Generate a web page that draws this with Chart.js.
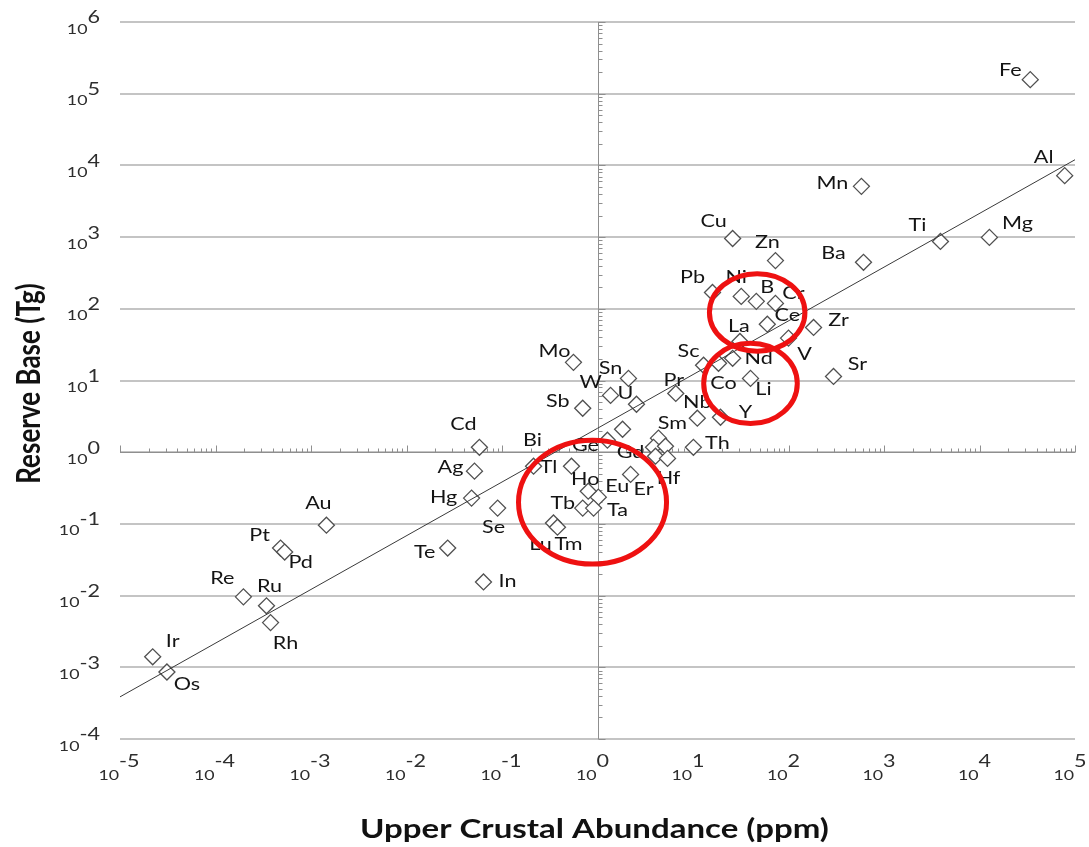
<!DOCTYPE html>
<html>
<head>
<meta charset="utf-8">
<style>
  html, body { margin: 0; padding: 0; background: #fff; }
  canvas { display: block; }
</style>
<script src="https://cdn.jsdelivr.net/npm/chart.js@4.4.1/dist/chart.umd.min.js"></script>
</head>
<body>
<canvas id="crustChart" width="1089" height="847"></canvas>
<script>
// element symbols ('' = unlabelled point)
var elements = ['Fe', 'Al', 'Mn', 'Ti', 'Mg', 'Ba', 'Cu', 'Zn', 'Pb', 'Ni', 'B', 'Cr',
                'Ce', 'La', 'Zr', 'V', 'Nd', 'Sc', 'Co', 'Li', 'Sr', 'Y', 'Nb', 'Pr',
                'Sm', 'Th', 'Gd', '', '', 'Hf', 'Er', 'Eu', 'Ho', 'Tb', 'Ta', 'Lu',
                'Tm', 'Ge', '', 'Tl', 'Bi', 'Mo', 'Sn', 'W', 'U', 'Sb', 'Cd', 'Ag',
                'Hg', 'Se', 'Te', 'In', 'Au', 'Pt', 'Pd', 'Re', 'Ru', 'Rh', 'Ir', 'Os'];

// upper crustal abundance (ppm)
var abundance = [3.4e4, 7.8e4, 580, 3900, 1.27e4, 610, 26, 73, 16, 32, 46, 73,
                 60, 31, 183, 100, 26, 12.9, 18.5, 40, 296, 19.4, 11.1, 6.6,
                 4.35, 10.1, 3.86, 5.15, 4.05, 5.41, 2.22, 1.02, 0.80, 0.70, 0.91, 0.346,
                 0.381, 1.27, 1.83, 0.534, 0.214, 0.56, 2.11, 1.37, 2.56, 0.70, 0.058, 0.0515,
                 0.048, 0.090, 0.027, 0.064, 0.00145, 0.00048, 0.00053, 0.000196, 0.000342, 0.000377, 2.2e-5, 3.1e-5];

// reserve base (Tg)
var reserve = [1.57e5, 7200, 5100, 870, 990, 445, 955, 470, 169, 149, 127, 119,
               61, 35, 55, 39, 20.4, 16.3, 17.4, 10.7, 11.4, 3.07, 2.98, 6.6,
               1.57, 1.17, 1.17, 1.21, 0.88, 0.82, 0.49, 0.236, 0.286, 0.166, 0.166, 0.103,
               0.090, 1.47, 2.09, 0.638, 0.638, 17.9, 10.7, 6.2, 4.66, 4.1, 1.17, 0.544,
               0.229, 0.166, 0.046, 0.0155, 0.096, 0.046, 0.0405, 0.0096, 0.0072, 0.0042, 0.0014, 0.00086];

// power-law trend line end points
var trendX = [1e-5, 1e5];
var trendY = [3.87e-4, 1.2e4];

var xTicks = [1e-5, 1e-4, 1e-3, 1e-2, 1e-1, 1, 1e1, 1e2, 1e3, 1e4, 1e5];
var yTicks = [1e-4, 1e-3, 1e-2, 1e-1, 1, 1e1, 1e2, 1e3, 1e4, 1e5, 1e6];

// red highlight rings: centre (data units), half-widths in decades
var rings = [
  { x: 47, y: 89, rx: 0.50, ry: 0.54 },
  { x: 40, y: 9.1, rx: 0.49, ry: 0.56 },
  { x: 0.887, y: 0.201, rx: 0.775, ry: 0.864 }
];

// label placement relative to the marker (px)
var labelOffset = {
  Fe: [-20, -9], Al: [-21, -18], Mn: [-29, -3], Ti: [-23, -16], Mg: [28, -14], Ba: [-30, -9],
  Cu: [-19, -17], Zn: [-8, -18], Pb: [-20, -15], Ni: [-5, -19], B: [11, -14], Cr: [18, -10],
  Ce: [20, -9], La: [-1, -15], Zr: [25, -7], V: [16, 16], Nd: [26, 0], Sc: [-15, -14],
  Co: [5, 20], Li: [13, 11], Sr: [24, -12], Y: [25, -5], Nb: [0, -16], Pr: [-2, -13],
  Sm: [14, -15], Th: [24, -4], Gd: [-23, 5], Hf: [1, 20], Er: [13, 15], Eu: [19, -11],
  Ho: [-3, -12], Tb: [-20, -5], Ta: [24, 2], Lu: [-13, 22], Tm: [11, 17], Ge: [-22, 5],
  Tl: [-23, 1], Bi: [-1, -26], Mo: [-19, -11], Sn: [-18, -10], W: [-20, -13], U: [-11, -11],
  Sb: [-25, -7], Cd: [-16, -23], Ag: [-24, -4], Hg: [-28, -1], Se: [-4, 19], Te: [-23, 4],
  In: [24, 0], Au: [-8, -22], Pt: [-21, -13], Pd: [16, 10], Re: [-21, -18], Ru: [3, -19],
  Rh: [15, 21], Ir: [20, -15], Os: [20, 13]
};

var STRETCH = 1.27;
var FONT = 'Lato, "Open Sans", sans-serif';

function wideText(ctx, text, x, y, align) {
  ctx.save();
  ctx.translate(x, y);
  ctx.scale(STRETCH, 1);
  ctx.textAlign = align || 'center';
  ctx.fillText(text, 0, 0);
  ctx.restore();
}

var decor = {
  id: 'decor',
  beforeDatasetsDraw: function (chart) {
    var c = chart.ctx, xs = chart.scales.x, ys = chart.scales.y, a = chart.chartArea;
    var x0 = Math.round(xs.getPixelForValue(1)) + 0.5;
    var y0 = Math.round(ys.getPixelForValue(1)) + 0.5;
    c.save();
    c.strokeStyle = '#8f8f8f';
    c.lineWidth = 1;
    c.beginPath();
    c.moveTo(x0, a.top); c.lineTo(x0, a.bottom);
    c.moveTo(a.left, y0); c.lineTo(a.right, y0);
    var d, k, p;
    for (d = -5; d <= 5; d++) {
      for (k = 1; k < 10; k++) {
        if (d === 5 && k > 1) break;
        p = Math.round(xs.getPixelForValue(k * Math.pow(10, d))) + 0.5;
        c.moveTo(p, y0); c.lineTo(p, y0 - (k === 1 ? 7 : 4));
      }
    }
    for (d = -4; d <= 6; d++) {
      for (k = 1; k < 10; k++) {
        if (d === 6 && k > 1) break;
        p = Math.round(ys.getPixelForValue(k * Math.pow(10, d))) + 0.5;
        c.moveTo(x0, p); c.lineTo(x0 + (k === 1 ? 7 : 4), p);
      }
    }
    c.stroke();
    c.restore();
  },
  afterDatasetsDraw: function (chart) {
    var c = chart.ctx, xs = chart.scales.x, ys = chart.scales.y;
    c.save();
    c.fillStyle = '#141414';
    c.font = '17px ' + FONT;
    c.textBaseline = 'middle';
    elements.forEach(function (el, i) {
      if (!el) return;
      var off = labelOffset[el] || [0, -16];
      wideText(c, el, xs.getPixelForValue(abundance[i]) + off[0], ys.getPixelForValue(reserve[i]) + off[1]);
    });
    c.strokeStyle = '#ee1111';
    c.lineWidth = 5;
    rings.forEach(function (r) {
      var cx = xs.getPixelForValue(r.x), cy = ys.getPixelForValue(r.y);
      var w = xs.getPixelForValue(r.x * Math.pow(10, r.rx)) - cx;
      var h = cy - ys.getPixelForValue(r.y * Math.pow(10, r.ry));
      c.beginPath();
      c.ellipse(cx, cy, w, h, 0, 0, Math.PI * 2);
      c.stroke();
    });
    c.restore();
  },
  afterDraw: function (chart) {
    var c = chart.ctx, xs = chart.scales.x, ys = chart.scales.y, a = chart.chartArea;
    c.save();
    c.fillStyle = '#2e2e2e';
    c.textBaseline = 'middle';
    yTicks.forEach(function (v) {
      var py = ys.getPixelForValue(v);
      var exp = String(Math.round(Math.log10(v)));
      c.font = '17px ' + FONT;
      var ew = c.measureText(exp).width * STRETCH;
      wideText(c, exp, a.left - 20, py - 4, 'right');
      c.font = '14px ' + FONT;
      wideText(c, '10', a.left - 20 - ew, py + 7, 'right');
    });
    xTicks.forEach(function (v) {
      var px = xs.getPixelForValue(v);
      var exp = String(Math.round(Math.log10(v)));
      c.font = '17px ' + FONT;
      wideText(c, exp, px - 1, a.bottom + 23, 'left');
      c.font = '14px ' + FONT;
      wideText(c, '10', px - 1, a.bottom + 36, 'right');
    });
    c.fillStyle = '#111';
    c.font = 'bold 26px ' + FONT;
    wideText(c, 'Upper Crustal Abundance (ppm)', (a.left + a.right) / 2 - 3, 830);
    c.save();
    c.translate(29, (a.top + a.bottom) / 2 + 3);
    c.rotate(-Math.PI / 2);
    c.scale(1, STRETCH);
    c.textAlign = 'center';
    c.fillText('Reserve Base (Tg)', 0, 0);
    c.restore();
    c.restore();
  }
};

new Chart(document.getElementById('crustChart'), {
  type: 'scatter',
  data: {
    datasets: [
      {
        type: 'line',
        label: 'Trend',
        data: trendX.map(function (x, i) { return { x: x, y: trendY[i] }; }),
        borderColor: '#3a3a3a',
        borderWidth: 1,
        pointRadius: 0,
        order: 0
      },
      {
        label: 'Elements',
        data: abundance.map(function (x, i) { return { x: x, y: reserve[i] }; }),
        pointStyle: 'rectRot',
        pointRadius: 8,
        borderColor: '#505050',
        borderWidth: 1.3,
        backgroundColor: '#ffffff',
        order: 1
      }
    ]
  },
  options: {
    responsive: false,
    animation: false,
    devicePixelRatio: 1,
    layout: { padding: { top: 22, right: 14, left: 0, bottom: 0 } },
    plugins: { legend: { display: false }, tooltip: { enabled: false } },
    scales: {
      x: {
        type: 'logarithmic', min: 1e-5, max: 1e5,
        grid: { display: false },
        border: { display: false },
        ticks: { display: false },
        afterBuildTicks: function (s) { s.ticks = xTicks.map(function (v) { return { value: v }; }); },
        afterFit: function (s) { s.height = 108; }
      },
      y: {
        type: 'logarithmic', min: 1e-4, max: 1e6,
        grid: { color: '#c4c4c4', lineWidth: 2, drawTicks: false },
        border: { display: false },
        ticks: { display: false },
        afterBuildTicks: function (s) { s.ticks = yTicks.map(function (v) { return { value: v }; }); },
        afterFit: function (s) { s.width = 120; }
      }
    }
  },
  plugins: [decor]
});
</script>
</body>
</html>
